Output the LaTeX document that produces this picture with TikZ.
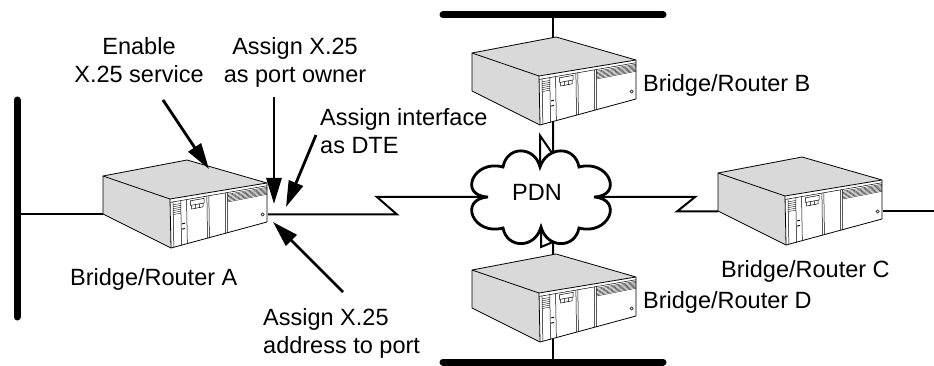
\documentclass[tikz,border=0pt]{standalone}
\usepackage{fontspec}
\setmainfont{Liberation Sans}
\usetikzlibrary{arrows.meta,calc}

% point on a router's front panel: u runs left to right, v top to bottom
\newcommand\fpt[2]{({67+97*(#1)+(#2)*(1-(#1))},{23-16*(#1)+(#2)*(49-10*(#1))})}

\tikzset{
  boxline/.style={line width=0.8pt, line join=round},
  panel/.style={line width=0.5pt},
  vent/.style={line width=0.35pt},
  bus/.style={line width=7pt, line cap=round},
  wire/.style={line width=2pt, line join=miter},
  pointer/.style={line width=2.8pt, -{Triangle[length=26pt,width=15pt]}},
  txt/.style={font=\fontsize{23.5}{28}\selectfont, inner sep=0pt},
  router/.pic={
    % lid and left side
    \fill[gray!30] (0,0) -- (84,-16) -- (164,7) -- (67,23) -- (68,72) -- (0,38) -- cycle;
    \fill[white] (67,23) -- (164,7) -- (164,46) -- (68,72) -- cycle;
    % front panel modules
    \draw[panel] \fpt{0}{0.07} -- \fpt{1}{0.07};
    \foreach \u in {0.03,0.11,0.17,0.38,0.40,0.57,0.59}
      \draw[panel] \fpt{\u}{0.07} -- \fpt{\u}{1};
    % ventilation slots
    \foreach \v in {0.11,0.14,0.17,0.20,0.23,0.26,0.29}
      \draw[vent] \fpt{0.59}{\v} -- \fpt{1}{\v};
    \foreach \v in {0.13,0.17,0.21,0.25,0.29,0.33}
      \draw[vent] \fpt{0.03}{\v} -- \fpt{0.11}{\v};
    % display and keys
    \draw[panel] \fpt{0.21}{0.11} -- \fpt{0.35}{0.11} -- \fpt{0.35}{0.21} -- \fpt{0.21}{0.21} -- cycle;
    \draw[panel] \fpt{0.22}{0.21} -- \fpt{0.22}{0.29} -- \fpt{0.34}{0.29} -- \fpt{0.34}{0.21};
    \draw[panel] \fpt{0.26}{0.21} -- \fpt{0.26}{0.29} \fpt{0.30}{0.21} -- \fpt{0.30}{0.29};
    % indicator marks and power button
    \draw[line width=0.9pt] \fpt{0.12}{0.56} -- \fpt{0.15}{0.56} \fpt{0.12}{0.67} -- \fpt{0.15}{0.67};
    \draw[panel] \fpt{0.955}{0.78} circle (1.6);
    % outline
    \draw[boxline] (0,0) -- (84,-16) -- (164,7) -- (67,23) -- cycle;
    \draw[boxline] (0,0) -- (0,38) -- (68,72) -- (164,46) -- (164,7);
    \draw[boxline] (67,23) -- (68,72);
    % ports
    \coordinate (-w) at (0,38.5);
    \coordinate (-e) at (165,38.5);
    \coordinate (-n) at (81,-15.4);
    \coordinate (-s) at (81,68.5);
  }
}

\begin{document}
\begin{tikzpicture}[x=1pt,y=-1pt]
\useasboundingbox (0,0) rectangle (934,366);

% LAN segments
\coordinate (busW) at (17,100);
\coordinate (busWend) at (17,317);
\coordinate (busN) at (443,15);
\coordinate (busNend) at (663,15);
\coordinate (busS) at (443,362);
\coordinate (busSend) at (663,362);
\coordinate (edgeE) at (936,0);
\draw[bus] (busW) -- (busWend);
\draw[bus] (busN) -- (busNend);
\draw[bus] (busS) -- (busSend);

% bridge/routers
\pic (A) at (103,176) {router};
\pic (B) at (472,53) {router};
\pic (C) at (718,173) {router};
\pic (D) at (472,270) {router};

% cloud attachment points
\coordinate (pdnN) at (540,167);
\coordinate (pdnS) at (541,227);
\coordinate (pdnW) at (488,197);
\coordinate (pdnE) at (594,197);

% links
\draw[wire] (A-w) -- (A-w -| busW);
\draw[wire] (B-n) -- (B-n |- busN);
\draw[wire] (D-s) -- (D-s |- busS);
\draw[wire] (C-e) -- (C-e -| edgeE);
\draw[wire] (A-e) -- ($(A-e)+(129,0)$) -- ($(pdnW)+(-111,0)$) -- (pdnW);
\draw[wire] (pdnE) -- ++(101,0) -- ($(C-w)+(-41,0)$) -- (C-w);
\draw[wire] (B-s) -- ++(0,33) -- ++(-13,-19) -- (pdnN);
\draw[wire] (pdnS) -- ++(0,20) -- ++(12,-5) -- (D-n);

% public data network
\draw[line width=2.8pt, line join=miter, fill=white]
  (pdnN) .. controls (535,146) and (507,145) .. (503,167)
  .. controls (473,159) and (458,196) .. (pdnW)
  .. controls (458,199) and (473,236) .. (503,228)
  .. controls (507,249) and (535,249) .. (pdnS)
  .. controls (547,249) and (575,249) .. (579,228)
  .. controls (609,236) and (624,199) .. (pdnE)
  .. controls (624,196) and (609,159) .. (579,167)
  .. controls (575,145) and (547,146) .. (pdnN) -- cycle;
\node[txt] (pdn) at (537,192) {PDN};

% router names
\node[txt, anchor=base west] (nameA) at (70,285) {Bridge/Router A};
\node[txt, anchor=base west] (nameB) at (643,92) {Bridge/Router B};
\node[txt, anchor=base west] (nameC) at (721,277) {Bridge/Router C};
\node[txt, anchor=base west] (nameD) at (643,308) {Bridge/Router D};

% configuration steps (anchored at the baseline of the last line)
\node[txt, align=center, anchor=base] (enable) at (139,83) {Enable\\X.25 service};
\node[txt, align=center, anchor=base] (owner) at (295,83) {Assign X.25\\as port owner};
\node[txt, align=left, anchor=base west] (dte) at (320,154) {Assign interface\\as DTE};
\node[txt, align=left, anchor=base west] (addr) at (263,353) {Assign X.25\\address to port};

\coordinate (p1s) at (163,100);
\coordinate (p1e) at (209,169);
\coordinate (p2s) at (274,97);
\coordinate (p2e) at (274,204);
\coordinate (p3s) at (316,135);
\coordinate (p3e) at (286,207);
\coordinate (p4s) at (343,292);
\coordinate (p4e) at (273,222);
\draw[pointer] (p1s) -- (p1e);
\draw[pointer] (p2s) -- (p2e);
\draw[pointer] (p3s) -- (p3e);
\draw[pointer] (p4s) -- (p4e);
\end{tikzpicture}
\end{document}
